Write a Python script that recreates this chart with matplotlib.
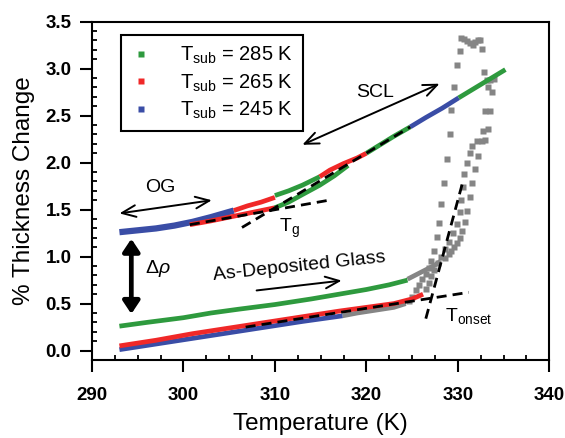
import matplotlib
matplotlib.use("Agg")
import matplotlib.pyplot as plt
from matplotlib.lines import Line2D

plt.rcParams['font.family'] = ['Liberation Sans', 'DejaVu Sans']
plt.rcParams['mathtext.fontset'] = 'custom'
plt.rcParams['mathtext.rm'] = 'Liberation Sans'
plt.rcParams['mathtext.it'] = 'Liberation Sans:italic'
plt.rcParams['mathtext.bf'] = 'Liberation Sans:bold'

GREEN = '#2E9A3E'
RED = '#F02828'
BLUE = '#3A4DA6'
GREY = '#858585'

# ---------------- data (temperature K, % thickness change) ----------------
# as-deposited glass (heating)
green_asdep_T = [293, 296, 300, 303, 306, 310, 314, 317, 320, 322.5, 324.5]
green_asdep_y = [0.26, 0.30, 0.35, 0.40, 0.44, 0.49, 0.55, 0.60, 0.65, 0.70, 0.75]
red_asdep_T = [293, 297, 301, 305, 309, 313, 317, 320, 323, 325, 326.2]
red_asdep_y = [0.05, 0.11, 0.18, 0.24, 0.30, 0.36, 0.42, 0.46, 0.50, 0.55, 0.60]
blue_asdep_T = [293, 297, 301, 305, 309, 313, 317.4]
blue_asdep_y = [0.01, 0.07, 0.13, 0.19, 0.25, 0.31, 0.37]

# ordinary glass / supercooled liquid (upper branch), visible segments
blue_og_T = [293, 295, 297, 299, 301, 303, 305.5]
blue_og_y = [1.26, 1.28, 1.30, 1.33, 1.37, 1.42, 1.49]
red_og_T = [305.5, 307, 308.5, 310]
red_og_y = [1.49, 1.54, 1.58, 1.63]
green_og_T = [310, 311.5, 313, 314.9]
green_og_y = [1.65, 1.70, 1.76, 1.85]
red_scl_T = [314.9, 316, 317.5, 319, 320]
red_scl_y = [1.85, 1.92, 1.99, 2.05, 2.10]
green_scl_T = [320, 321.5, 323, 324.8]
green_scl_y = [2.10, 2.19, 2.28, 2.38]
blue_scl_T = [324.8, 326.5, 328.3, 330.1]
blue_scl_y = [2.38, 2.48, 2.58, 2.69]
green_scl2_T = [330.1, 331.8, 333.5, 335.2]
green_scl2_y = [2.69, 2.79, 2.89, 2.99]

# lower glass branch near Tg
red_glass_T = [300.7, 303, 305.5, 308, 310]
red_glass_y = [1.34, 1.38, 1.43, 1.48, 1.52]
green_glass_T = [310, 311.5, 313, 314.9, 316.5, 318]
green_glass_y = [1.52, 1.58, 1.66, 1.76, 1.86, 1.97]

# grey transformation data
grey_dense_T = [317.4, 319, 321, 323, 324.3]
grey_dense_y = [0.37, 0.40, 0.43, 0.46, 0.50]
grey_dense2_T = [324.5, 325.5, 326.5, 327.5, 328.1]
grey_dense2_y = [0.76, 0.81, 0.86, 0.91, 0.95]
grey_b_T = [324.7, 325.0, 325.4, 325.8, 326.1, 326.5, 326.8, 327.1, 327.4, 327.7,
            327.9, 328.2, 328.5, 328.8, 329.1, 329.3, 329.6, 329.9, 330.2, 330.4,
            330.7, 330.95, 331.3, 331.7, 331.9, 332.2, 332.4, 332.6, 332.9, 333.2,
            333.5, 333.9]
grey_b_y = [0.53, 0.57, 0.64, 0.70, 0.76, 0.82, 0.88, 0.95, 1.06, 1.21,
            1.36, 1.56, 1.78, 2.04, 2.30, 2.56, 2.81, 3.04, 3.19, 3.33,
            3.32, 3.29, 3.27, 3.25, 3.28, 3.31, 3.31, 3.21, 2.96, 2.88,
            2.88, 2.89]
grey_r_T = [326.5, 326.8, 327.1, 327.4, 327.8, 328.2, 328.6, 329.0, 329.5, 329.9,
            330.2, 330.4, 330.6, 330.7, 331.0, 331.3, 331.5, 332.1, 332.6, 333.0,
            333.3, 333.5, 333.7]
grey_r_y = [0.66, 0.72, 0.79, 0.86, 0.93, 1.00, 1.08, 1.16, 1.25, 1.35,
            1.47, 1.60, 1.74, 1.88, 2.00, 2.10, 2.18, 2.23, 2.23, 2.24,
            2.36, 2.55, 2.75]
grey_g_T = [328.6, 329.0, 329.3, 329.6, 329.9, 330.2, 330.5, 330.8, 331.0, 331.3,
            331.6, 331.9, 332.2, 332.7, 333.0, 333.3]
grey_g_y = [0.99, 1.03, 1.06, 1.10, 1.15, 1.20, 1.27, 1.37, 1.49, 1.63,
            1.78, 1.93, 2.07, 2.34, 2.55, 2.80]

# dashed construction lines (endpoints)
og_fit_T = [300.7, 315.9]
og_fit_y = [1.34, 1.60]
scl_fit_T = [306.4, 324.8]
scl_fit_y = [1.31, 2.38]
asdep_fit_T = [306.8, 331.2]
asdep_fit_y = [0.25, 0.62]
onset_fit_T = [326.5, 330.5]
onset_fit_y = [0.34, 1.78]

legend_labels = [r'T$_{\mathrm{sub}}$ = 285 K', r'T$_{\mathrm{sub}}$ = 265 K', r'T$_{\mathrm{sub}}$ = 245 K']

x_ticks = [290, 300, 310, 320, 330, 340]
y_ticks = [0.0, 0.5, 1.0, 1.5, 2.0, 2.5, 3.0, 3.5]

# ---------------- figure ----------------
fig = plt.figure(figsize=(5.65, 4.38), dpi=100)
ax = fig.add_axes([0.1628, 0.1781, 0.8094, 0.7724])

LW = 3.4
kw = dict(solid_capstyle='butt', solid_joinstyle='round')
# grey dense parts
ax.plot(grey_dense_T, grey_dense_y, color=GREY, lw=LW, **kw)
ax.plot(grey_dense2_T, grey_dense2_y, color=GREY, lw=LW, **kw)
for gT, gy in [(grey_b_T, grey_b_y), (grey_r_T, grey_r_y), (grey_g_T, grey_g_y)]:
    ax.plot(gT, gy, ls='none', marker='s', ms=4.0, color=GREY, mec='none')

ax.plot(blue_asdep_T, blue_asdep_y, color=BLUE, lw=LW, **kw)
ax.plot(red_asdep_T, red_asdep_y, color=RED, lw=LW, **kw)
ax.plot(green_asdep_T, green_asdep_y, color=GREEN, lw=LW, **kw)

ax.plot(blue_og_T, blue_og_y, color=BLUE, lw=4.5, **kw)
ax.plot(red_glass_T, red_glass_y, color=RED, lw=LW, **kw)
ax.plot(green_glass_T, green_glass_y, color=GREEN, lw=LW, **kw)
ax.plot(red_og_T, red_og_y, color=RED, lw=LW, **kw)
ax.plot(green_og_T, green_og_y, color=GREEN, lw=LW, **kw)
ax.plot(red_scl_T, red_scl_y, color=RED, lw=LW, **kw)
ax.plot(green_scl_T, green_scl_y, color=GREEN, lw=LW, **kw)
ax.plot(blue_scl_T, blue_scl_y, color=BLUE, lw=LW, **kw)
ax.plot(green_scl2_T, green_scl2_y, color=GREEN, lw=LW, **kw)

dash = (0, (3.6, 2.2))
for fT, fy in [(og_fit_T, og_fit_y), (scl_fit_T, scl_fit_y),
               (asdep_fit_T, asdep_fit_y), (onset_fit_T, onset_fit_y)]:
    ax.plot(fT, fy, color='black', lw=2.0, ls=dash, dash_capstyle='butt')

# ---------------- annotations ----------------
FS = 14
thin = dict(arrowstyle='<->,head_length=1.0,head_width=0.42', lw=1.4, color='black',
            shrinkA=0, shrinkB=0)
ax.annotate('', xy=(293.0, 1.46), xytext=(303.1, 1.60), arrowprops=thin)
ax.text(297.5, 1.74, 'OG', fontsize=FS, ha='center', va='center')

ax.annotate('', xy=(313.0, 2.19), xytext=(328.0, 2.84), arrowprops=thin)
ax.text(320.9, 2.75, 'SCL', fontsize=FS, ha='center', va='center')

ax.annotate('', xy=(317.3, 0.745), xytext=(308.0, 0.64),
            arrowprops=dict(arrowstyle='->,head_length=1.0,head_width=0.42', lw=1.4,
                            color='black', shrinkA=0, shrinkB=0))
ax.text(312.7, 0.895, 'As-Deposited Glass', fontsize=FS, ha='center', va='center',
        rotation=6, rotation_mode='anchor')

ax.annotate('', xy=(294.3, 1.19), xytext=(294.3, 0.39),
            arrowprops=dict(arrowstyle='<|-|>,head_length=0.75,head_width=0.5', lw=3.4,
                            color='black', shrinkA=0, shrinkB=0))
ax.text(297.2, 0.87, r'$\Delta\rho$', fontsize=FS, ha='center', va='center')

ax.text(310.4, 1.26, r'T$_{\mathrm{g}}$', fontsize=FS, ha='left', va='baseline')
ax.text(328.6, 0.32, r'T$_{\mathrm{onset}}$', fontsize=FS, ha='left', va='baseline')

# ---------------- axes styling ----------------
ax.set_xlim(290, 340)
ax.set_ylim(-0.1, 3.5)
ax.set_xticks(x_ticks)
ax.set_yticks(y_ticks)
ax.set_xticklabels([str(v) for v in x_ticks])
ax.set_yticklabels(['%.1f' % v for v in y_ticks])
ax.set_xticks([290 + 2.5 * i for i in range(21)], minor=True)
ax.set_yticks([-0.1 + 0.1 * i for i in range(37)], minor=True)
for s in ax.spines.values():
    s.set_linewidth(1.5)
ax.tick_params(which='major', direction='out', length=8.6, width=1.5, labelsize=13.5,
               pad=6, top=False, right=False)
ax.tick_params(axis='x', which='major', pad=11)
ax.tick_params(which='minor', direction='in', length=3.4, width=1.3, top=False, right=False)
for lab in ax.get_xticklabels() + ax.get_yticklabels():
    lab.set_fontweight('bold')

ax.set_xlabel('Temperature (K)', fontsize=17.5, labelpad=6)
ax.set_ylabel('% Thickness Change', fontsize=17.5, labelpad=8)

handles = [Line2D([], [], ls='none', marker='s', ms=4.5, color=c, mec='none')
           for c in (GREEN, RED, BLUE)]
leg = ax.legend(handles, legend_labels, loc='upper left', bbox_to_anchor=(0.0634, 0.9607),
                borderaxespad=0, fontsize=14.5, frameon=True, fancybox=False,
                handlelength=1.0, handletextpad=1.45, borderpad=0.5, labelspacing=0.3,
                numpoints=1)
leg.get_frame().set_edgecolor('black')
leg.get_frame().set_linewidth(1.5)
leg.get_frame().set_alpha(1)

fig.savefig('out.png', dpi=100)
